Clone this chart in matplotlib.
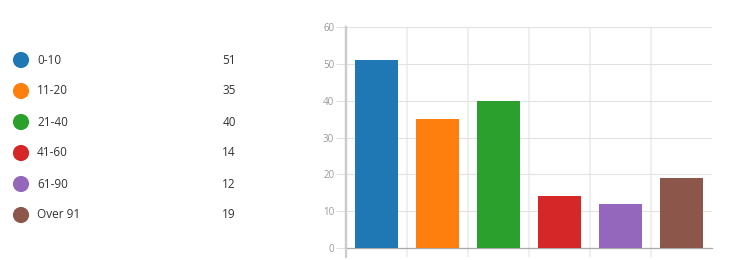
import numpy as np
import matplotlib.pyplot as plt

plt.rcParams['font.family'] = ['Open Sans', 'DejaVu Sans']

categories = ['0-10', '11-20', '21-40', '41-60', '61-90', 'Over 91']
values = [51, 35, 40, 14, 12, 19]
colors = ['#1f77b4', '#ff7f0e', '#2ca02c', '#d62728', '#9467bd', '#8c564b']
yticks = [0, 10, 20, 30, 40, 50, 60]

W, H = 734, 260
fig = plt.figure(figsize=(W / 100, H / 100), dpi=100)

# legend column, pixel coordinates
lax = fig.add_axes([0, 0, 1, 1])
lax.set_xlim(0, W)
lax.set_ylim(H, 0)
lax.axis('off')
rows = 60 + 31 * np.arange(len(categories))
lax.scatter(np.full(len(rows), 21), rows, s=135, c=colors, linewidths=0)
for y, name, v in zip(rows, categories, values):
    lax.text(37, y, name, fontsize=8.5, color='#333333', va='center', ha='left')
    lax.text(236, y, str(v), fontsize=8.5, color='#333333', va='center', ha='right')

# bar chart
ax = fig.add_axes([346 / W, 12 / H, 366 / W, 221 / H])
x = np.arange(len(values)) + 0.5
ax.bar(x, values, width=0.72, color=colors, zorder=3)
ax.set_xlim(0, len(values))
ax.set_ylim(0, 60)
ax.set_yticks(yticks)
ax.set_xticks(np.arange(len(values)))
ax.set_xticklabels([])
ax.tick_params(axis='y', length=7.5, width=0.8, color='#e2e2e2', pad=1,
               labelsize=7, labelcolor='#999999')
ax.tick_params(axis='x', length=6.5, width=1.5, color='#efefef')
ax.grid(axis='y', color='#e2e2e2', linewidth=0.8, zorder=0)
ax.grid(axis='x', color='#efefef', linewidth=1.5, zorder=0)
for s in ['top', 'right']:
    ax.spines[s].set_visible(False)
ax.spines['bottom'].set_color('#aaaaaa')
ax.spines['bottom'].set_linewidth(0.9)
ax.spines['left'].set_color('#cccccc')
ax.spines['left'].set_linewidth(1.6)
ax.plot([0, 0], [-2.45, 60], color='#cccccc', linewidth=1.6, clip_on=False, zorder=4)

fig.savefig('out.png', dpi=100)
